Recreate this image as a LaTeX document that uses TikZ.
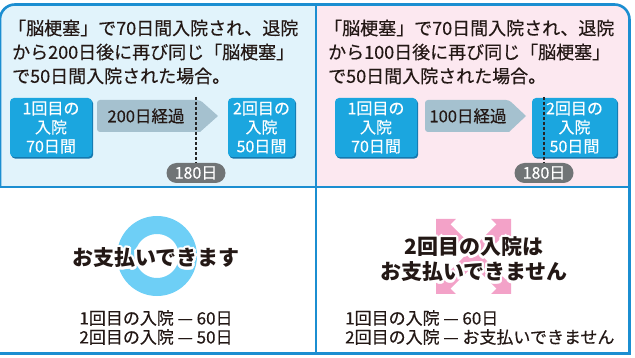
\documentclass[tikz,border=0pt]{standalone}
\usepackage{fontspec}
\setmainfont{Noto Sans CJK JP}[UprightFeatures={FakeBold=0.4}]
\usetikzlibrary{arrows.meta,calc,shadows}
\definecolor{framec}{HTML}{1B8ED1}
\definecolor{bgblue}{HTML}{E1F3FB}
\definecolor{bgpink}{HTML}{FCE8F0}
\definecolor{cboxc}{HTML}{1BA6DF}
\definecolor{cboxsh}{HTML}{1578AE}
\definecolor{arrowc}{HTML}{A5C1CF}
\definecolor{pillc}{HTML}{707476}
\definecolor{ringc}{HTML}{6ECFF6}
\definecolor{pinkc}{HTML}{F3A2C8}
\definecolor{txt}{HTML}{231815}
\newcommand\halonode[3]{%
  \foreach \a in {0,20,...,340} \node[bigt, text=white] at ($#2+(\a:2.4)$) {#3};
  \node[bigt] (#1) at #2 {#3};}
% arm of the X: shaft plus two arrowheads
\newcommand\xarmdraw[2]{%
  \draw[draw=pinkc, line width=13] ($(#1)!12pt!(#2)$) -- ($(#2)!12pt!(#1)$);
  \fill[pinkc] (#1) -- ($($(#1)!14pt!(#2)$)!14pt!90:(#2)$) -- ($($(#1)!14pt!(#2)$)!14pt!-90:(#2)$) -- cycle;
  \fill[pinkc] (#2) -- ($($(#2)!14pt!(#1)$)!14pt!90:(#1)$) -- ($($(#2)!14pt!(#1)$)!14pt!-90:(#1)$) -- cycle;}
\begin{document}
\begin{tikzpicture}[x=1pt,y=-1pt,
  toptext/.style={anchor=west, inner sep=0, font=\fontsize{18}{24}\selectfont, text=txt},
  cbox/.style={fill=cboxc, rounded corners=4, text=white, align=center, inner sep=0,
    font=\fontsize{16}{19}\selectfont, minimum height=59,
    general shadow={fill=cboxsh, shadow xshift=1.2pt, shadow yshift=-1.6pt}},
  pasttext/.style={inner sep=0, font=\fontsize{16.5}{20}\selectfont, text=txt},
  pill/.style={fill=pillc, rounded corners=10, text=white, inner sep=0,
    minimum width=59, minimum height=20, font=\fontsize{16}{18}\selectfont},
  dotline/.style={draw=black!85, line width=2, dash pattern=on 3pt off 2pt},
  bigt/.style={inner sep=0, font=\fontsize{21}{25}\selectfont\bfseries, text=txt},
  smallt/.style={inner sep=0, font=\fontsize{17}{20}\selectfont, text=txt},
  framel/.style={draw=framec, line width=2.6}
]
\useasboundingbox (0,0) rectangle (635,358);
% panel backgrounds
\begin{scope}
  \clip (0,0) rectangle (316,187);
  \fill[bgblue, rounded corners=15] (0,4.5) rectangle (400,300);
\end{scope}
\begin{scope}
  \clip (316,0) rectangle (635,187);
  \fill[bgpink, rounded corners=15] (200,4.5) rectangle (629.5,300);
\end{scope}
% dividers and frame
\draw[draw=framec, line width=1.8] (0,187) -- (629.5,187);
\draw[framel] (316,4.5) -- (316,353.5);
\draw[framel, rounded corners=15] (0,187) -- (0,4.5) -- (629.5,4.5) -- (629.5,353.5);
\draw[framel, line width=3] (-2,353.5) -- (631,353.5);

% ---------- top left ----------
\node[toptext] (l1) at (8,28) {「脳梗塞」で70日間入院され、退院};
\node[toptext] (l2) at (12,52) {から200日後に再び同じ「脳梗塞」};
\node[toptext] (l3) at (12,76) {で50日間入院された場合。};

\fill[arrowc, rounded corners=3] (97,100) -- (200,100) [sharp corners] -- (218,116) -- (200,132) [rounded corners=3] -- (97,132) -- cycle;
\node[pasttext] (a1) at (146,116) {200日経過};
\node[cbox, minimum width=82] (b1) at (51,127.5) {1回目の\\入院\\70日間};
\node[cbox, minimum width=67] (b2) at (261.5,127.5) {2回目の\\入院\\50日間};
\node[pill] (p1) at (196,173) {180日};
\coordinate (d1) at (196,97);
\draw[dotline] (d1) -- (p1.north);

% ---------- top right ----------
\node[toptext] (r1) at (324,28) {「脳梗塞」で70日間入院され、退院};
\node[toptext] (r2) at (328,52) {から100日後に再び同じ「脳梗塞」};
\node[toptext] (r3) at (328,76) {で50日間入院された場合。};

\fill[arrowc, rounded corners=3] (425,100) -- (509,100) [sharp corners] -- (526,116) -- (509,132) [rounded corners=3] -- (425,132) -- cycle;
\node[pasttext] (a2) at (468,116) {100日経過};
\node[cbox, minimum width=82] (b3) at (376,127.5) {1回目の\\入院\\70日間};
\node[cbox, minimum width=85] (b4) at (574.5,127.5) {2回目の\\入院\\50日間};
\node[pill] (p2) at (544,173) {180日};
\coordinate (d2) at (544,97);
\draw[dotline] (d2) -- (p2.north);

% ---------- bottom left ----------
\draw[draw=ringc, line width=18] (157,256) circle[radius=31];
\halonode{ok}{(156,258)}{お支払いできます}
\node[smallt] (s1) at (156,318) {1回目の入院 — 60日};
\node[smallt] (s2) at (156,337) {2回目の入院 — 50日};

% ---------- bottom right ----------
\coordinate (x1) at (436,219);
\coordinate (x2) at (511,294);
\coordinate (x3) at (511,219);
\coordinate (x4) at (436,294);
\xarmdraw{x1}{x2}
\xarmdraw{x3}{x4}
\halonode{ng1}{(474,247)}{2回目の入院は}
\halonode{ng2}{(474,272)}{お支払いできません}
\node[smallt, anchor=west] (s3) at (345,318) {1回目の入院 — 60日};
\node[smallt, anchor=west] (s4) at (345,337) {2回目の入院 — お支払いできません};
\end{tikzpicture}
\end{document}
